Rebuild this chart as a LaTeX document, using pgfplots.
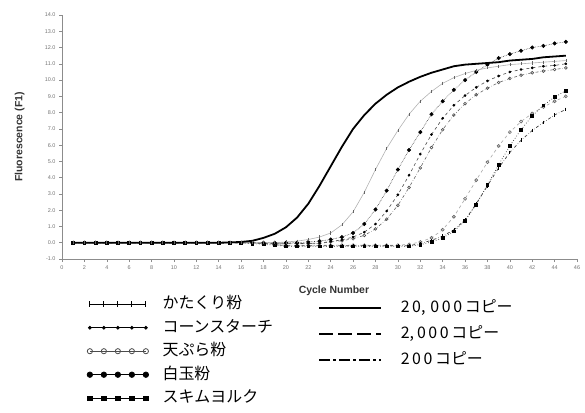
\documentclass[border=0pt]{standalone}
\usepackage{fontspec}
\setmainfont{Liberation Sans}
\newfontfamily\jp{Noto Sans CJK JP}
\usepackage{pgfplots}
\usepackage{pgfplotstable}
\pgfplotsset{compat=1.18}
\newcommand{\ds}{\hspace{2.6bp}}
\pgfplotstableread{
c a b d e f g h i
1 0.00 0.00 0.00 0.00 0.00 0.00 0.00 0.00
2 0.00 0.00 0.00 0.00 0.00 0.00 0.00 0.00
3 0.00 0.00 0.00 0.00 0.00 0.00 0.00 0.00
4 0.00 0.00 0.00 0.00 0.00 0.00 0.00 0.00
5 0.00 0.00 0.00 0.00 0.00 0.00 0.00 0.00
6 0.00 0.00 0.00 0.00 0.00 0.00 0.00 0.00
7 0.00 0.00 0.00 0.00 0.00 0.00 0.00 0.00
8 0.00 0.00 0.00 0.00 0.00 0.00 0.00 0.00
9 0.00 0.00 0.00 0.00 0.00 0.00 0.00 0.00
10 0.00 0.00 0.00 0.00 0.00 0.00 0.00 0.00
11 0.00 0.00 0.00 0.00 0.00 0.00 0.00 0.00
12 0.00 0.00 0.00 0.00 0.00 0.00 0.00 0.00
13 0.00 0.00 0.00 0.00 0.00 0.00 0.00 0.00
14 0.00 0.00 0.00 0.00 0.00 0.00 0.00 0.00
15 0.02 0.00 0.00 0.00 0.00 0.00 0.00 0.00
16 0.05 0.00 0.00 0.00 0.00 0.00 0.00 0.00
17 0.12 0.00 0.00 0.00 0.00 0.00 -0.05 0.00
18 0.30 0.00 0.00 -0.03 -0.03 -0.05 -0.10 -0.05
19 0.55 0.00 0.00 -0.05 -0.05 -0.10 -0.15 -0.10
20 0.95 0.05 0.00 -0.05 -0.05 -0.15 -0.22 -0.18
21 1.55 0.10 0.00 -0.05 -0.05 -0.15 -0.22 -0.18
22 2.40 0.20 0.05 -0.04 -0.05 -0.15 -0.22 -0.18
23 3.50 0.35 0.10 -0.02 -0.04 -0.15 -0.22 -0.18
24 4.70 0.60 0.20 0.08 0.05 -0.15 -0.22 -0.18
25 5.90 1.10 0.35 0.18 0.12 -0.15 -0.22 -0.18
26 7.00 1.90 0.60 0.35 0.25 -0.15 -0.22 -0.18
27 7.85 3.10 1.15 0.65 0.45 -0.15 -0.22 -0.18
28 8.55 4.50 2.05 1.15 0.85 -0.15 -0.22 -0.18
29 9.10 5.80 3.20 1.95 1.45 -0.15 -0.22 -0.18
30 9.55 6.90 4.50 2.95 2.30 -0.15 -0.22 -0.18
31 9.90 7.90 5.70 4.15 3.40 -0.10 -0.22 -0.18
32 10.20 8.70 6.80 5.45 4.60 0.05 -0.12 -0.05
33 10.45 9.30 7.90 6.65 5.85 0.30 0.05 0.15
34 10.65 9.80 8.70 7.65 6.95 0.80 0.30 0.40
35 10.85 10.15 9.40 8.45 7.85 1.60 0.70 0.80
36 10.95 10.40 10.00 9.05 8.55 2.70 1.35 1.40
37 11.00 10.60 10.50 9.55 9.10 3.85 2.35 2.40
38 11.05 10.75 10.95 9.95 9.50 4.95 3.55 3.50
39 11.10 10.85 11.35 10.25 9.85 5.95 4.80 4.60
40 11.20 10.95 11.60 10.50 10.10 6.80 5.95 5.55
41 11.25 11.00 11.80 10.65 10.30 7.45 6.95 6.30
42 11.30 11.05 12.00 10.75 10.45 7.95 7.80 6.90
43 11.40 11.10 12.10 10.85 10.55 8.35 8.45 7.40
44 11.45 11.15 12.25 10.90 10.65 8.70 8.95 7.85
45 11.50 11.20 12.35 11.00 10.75 9.00 9.35 8.20
}\data
\begin{document}
\begin{tikzpicture}[x=1bp,y=1bp]
\useasboundingbox (0,0) rectangle (585,-412);
\begin{axis}[
  at={(62bp,-259bp)}, anchor=south west,
  scale only axis, width=515bp, height=244bp,
  xmin=0, xmax=46, ymin=-1, ymax=14,
  axis x line*=bottom, axis y line*=left,
  axis line style={black!45, line width=0.6bp},
  xtick={0,2,...,46}, ytick={-1,0,...,14},
  tick align=outside, major tick length=3bp,
  tick style={black!45, line width=0.5bp},
  /pgf/number format/assume math mode=true,
  tick label style={font=\fontsize{5.5}{6}\selectfont, text=black!55},
  yticklabel style={/pgf/number format/fixed, /pgf/number format/fixed zerofill, /pgf/number format/precision=1},
  ylabel={Fluorescence (F1)},
  ylabel style={at={(axis description cs:-0.082,0.5)}, anchor=center, font=\bfseries\fontsize{10.5}{12}\selectfont, text=black!80},
  xlabel={Cycle Number},
  xlabel style={at={(axis description cs:0.528,-0.131)}, anchor=center, font=\bfseries\fontsize{10.5}{12}\selectfont, text=black!80},
  legend cell align=left,
  legend image code/.code={\draw[mark repeat=1,#1] plot coordinates {(0bp,0bp) (14bp,0bp) (28bp,0bp) (42bp,0bp) (56bp,0bp)};},
  legend style={at={(axis description cs:0.0485,-0.1537)}, anchor=north west, draw=none, fill=none,
    inner sep=0bp, row sep=8.5bp, font=\jp\fontsize{16}{16}\selectfont,
    nodes={inner sep=0bp, text height=12bp, text depth=3bp},
    /tikz/every odd column/.append style={column sep=14bp}},
]
\addplot[forget plot, gray!70, dashed, line width=0.6bp, mark=o, mark size=1.5bp, mark options={solid, draw=black!60}] table[x=c,y=g]{\data};
\addplot[forget plot, black!80, dotted, line width=0.7bp, mark=square*, mark size=1.4bp, mark options={solid, black}] table[x=c,y=h]{\data};
\addplot[forget plot, black!75, dash dot, line width=0.7bp, mark=|, mark size=1.8bp, mark options={solid, black}] table[x=c,y=i]{\data};
\addplot[forget plot, black!60, dash dot, line width=0.6bp, mark=o, mark size=1.4bp, mark options={solid, draw=black!70}] table[x=c,y=f]{\data};
\addplot[forget plot, black!70, dashed, line width=0.6bp, mark=*, mark size=1.0bp, mark options={solid, black}] table[x=c,y=e]{\data};
\addplot[forget plot, black!75, densely dotted, line width=0.6bp, mark=*, mark size=1.7bp, mark options={solid, black}] table[x=c,y=d]{\data};
\addplot[forget plot, gray!60, line width=0.6bp, mark=|, mark size=1.6bp, mark options={black!60}] table[x=c,y=b]{\data};
\addplot[forget plot, black, line width=1.8bp] table[x=c,y=a]{\data};
\addlegendimage{black, line width=0.8bp, mark=|, mark size=3bp}
\addlegendentry{かたくり粉}
\addlegendimage{black, line width=0.8bp, mark=*, mark size=1.5bp}
\addlegendentry{コーンスターチ}
\addlegendimage{black!70, line width=0.8bp, mark=o, mark size=2.6bp}
\addlegendentry{天ぷら粉}
\addlegendimage{black, line width=0.8bp, mark=*, mark size=2.7bp}
\addlegendentry{白玉粉}
\addlegendimage{black, line width=0.8bp, mark=square*, mark size=2.3bp}
\addlegendentry{スキムヨルク}
\end{axis}
\begin{axis}[
  at={(62bp,-259bp)}, anchor=south west,
  scale only axis, width=515bp, height=244bp,
  xmin=0, xmax=46, ymin=-1, ymax=14,
  hide axis,
  legend cell align=left,
  legend image code/.code={\draw[#1] (0bp,0bp) -- (62bp,0bp);},
  legend style={at={(axis description cs:0.497,-0.170)}, anchor=north west, draw=none, fill=none,
    inner sep=0bp, row sep=11bp, font=\jp\fontsize{16}{16}\selectfont,
    nodes={inner sep=0bp, text height=12bp, text depth=3bp},
    /tikz/every odd column/.append style={column sep=18bp}},
]
\addlegendimage{black, line width=2.6bp}
\addlegendentry{2\ds0,\hspace{5bp}0\ds0\ds0\ds コピー}
\addlegendimage{black, line width=2.6bp, dash pattern=on 14bp off 5bp}
\addlegendentry{2,\hspace{3bp}0\ds0\ds0\ds コピー}
\addlegendimage{black, line width=2.6bp, dash pattern=on 11bp off 3bp on 3bp off 3bp}
\addlegendentry{2\ds0\ds0\ds コピー}
\end{axis}
\end{tikzpicture}
\end{document}
